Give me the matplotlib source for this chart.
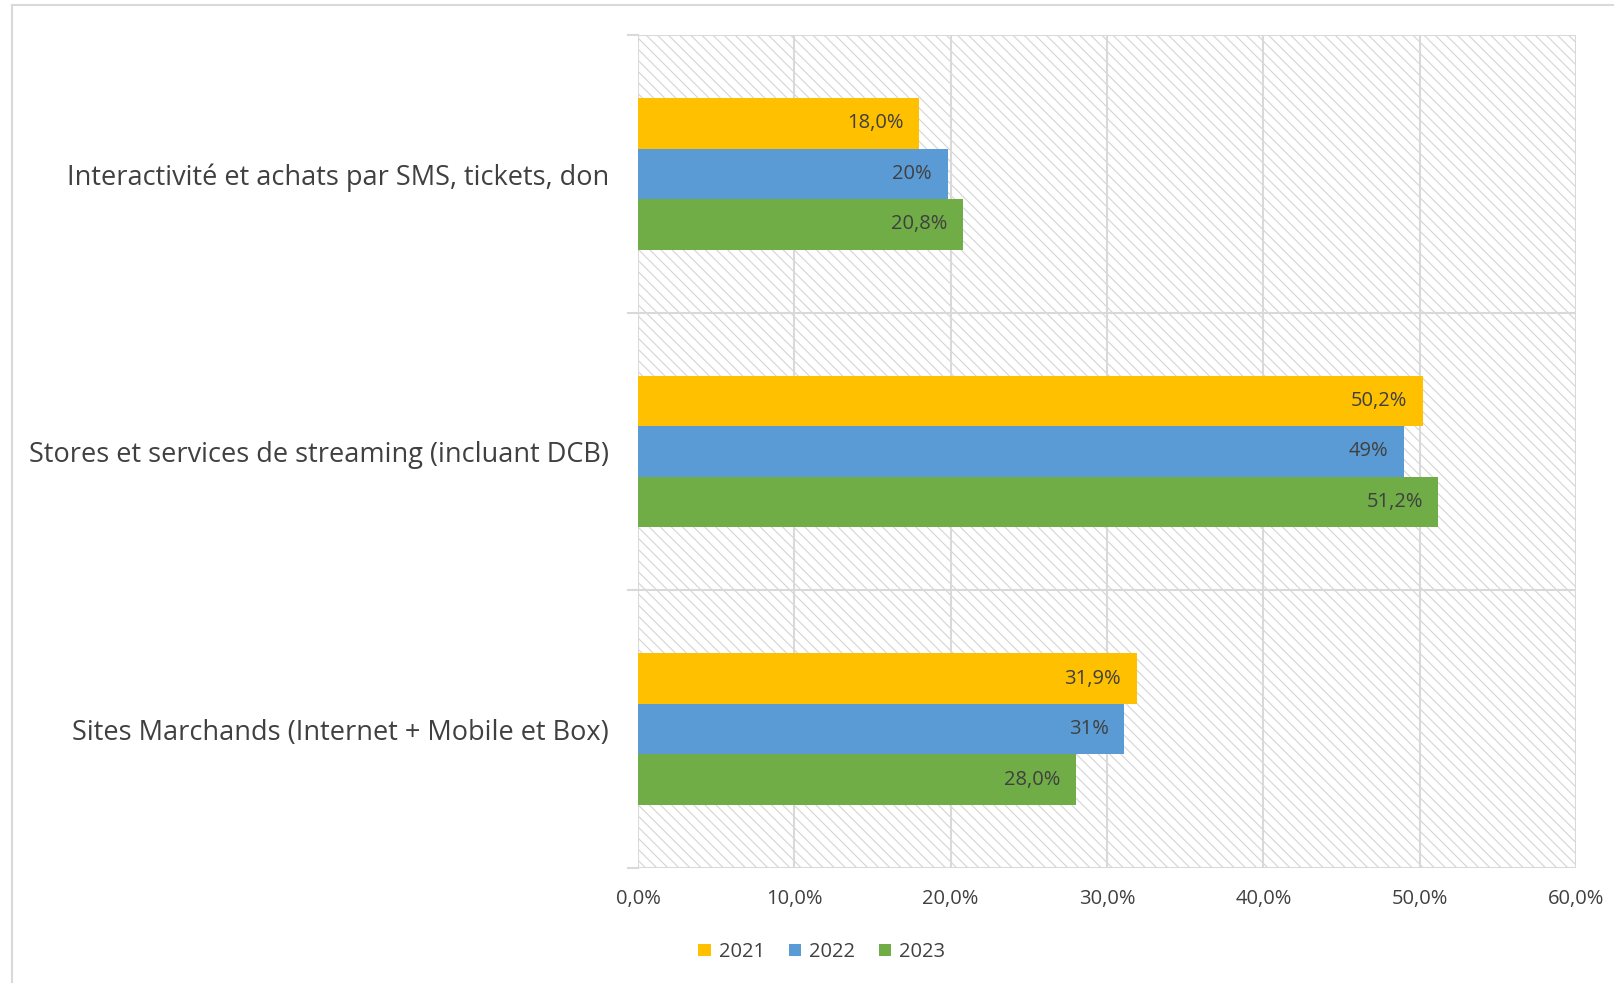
import matplotlib.pyplot as plt
from matplotlib.patches import Rectangle
import numpy as np

# Data
categories = ['Interactivité et achats par SMS, tickets, don',
              'Stores et services de streaming (incluant DCB)',
              'Sites Marchands (Internet + Mobile et Box)']
years = ['2021', '2022', '2023']
values_2021 = [18.0, 50.2, 31.9]
values_2022 = [19.8, 49.0, 31.1]
values_2023 = [20.8, 51.2, 28.0]
label_fmt = ['{:.1f}%', '{:.0f}%', '{:.1f}%']
colors = ['#ffc000', '#5b9bd5', '#70ad47']
xticks = [0, 10, 20, 30, 40, 50, 60]

plt.rcParams['font.family'] = ['Open Sans', 'DejaVu Sans']
plt.rcParams['hatch.linewidth'] = 0.8
text_col = '#404040'
grid_col = '#d9d9d9'

W, H = 1615, 983
fig = plt.figure(figsize=(W / 100, H / 100), dpi=100)
ax = fig.add_axes([638 / W, 1 - 868 / H, (1576 - 638) / W, (868 - 35) / H])

# figure border (light gray frame)
fig.add_artist(Rectangle((12 / W, -0.01), 1.1, 1 - 5 / H + 0.01,
                         transform=fig.transFigure, fill=False,
                         edgecolor=grid_col, linewidth=1.5))

ax.set_xlim(0, 60)
ax.set_ylim(3, 0)

# hatched plot area
ax.add_patch(Rectangle((0, 0), 60, 3, facecolor='white', edgecolor='#d4d4d4',
                       linewidth=0, hatch='\\\\\\', zorder=0))

n = len(categories)
bar_h = 49 / 269
series = [values_2021, values_2022, values_2023]
for i, (vals, col, fmt) in enumerate(zip(series, colors, label_fmt)):
    y = np.arange(n) + 0.5 + (i - 1) * bar_h
    ax.barh(y, vals, height=bar_h, color=col, label=years[i], zorder=3)
    for yy, v in zip(y, vals):
        ax.text(v - 1.0, yy, fmt.format(v).replace('.', ','), ha='right', va='center',
                fontsize=14.5, color=text_col, zorder=4)

# gridlines
for xv in xticks:
    ax.axvline(xv, color=grid_col, linewidth=1.5, zorder=1)
for k in range(n + 1):
    ax.axhline(k, color=grid_col, linewidth=1.5, zorder=1)
    ax.plot([-0.64, 0], [k, k], color=grid_col, linewidth=1.5, clip_on=False, zorder=1)

for s in ax.spines.values():
    s.set_visible(False)

ax.set_xticks(xticks)
ax.set_xticklabels(['{:.1f}%'.format(x).replace('.', ',') for x in xticks],
                   fontsize=14.5, color=text_col)
ax.tick_params(axis='x', length=0, pad=15)
ax.set_yticks(np.arange(n) + 0.5)
ax.set_yticklabels(categories, fontsize=19.5, color=text_col)
ax.tick_params(axis='y', length=0, pad=21)

leg = fig.legend(loc='center', bbox_to_anchor=(822 / W, 1 - 952 / H), ncol=3,
                 frameon=False, fontsize=14.5, handlelength=0.6, handleheight=0.6,
                 handletextpad=0.4, columnspacing=1.2)
for t in leg.get_texts():
    t.set_color(text_col)

plt.savefig('out.png', dpi=100)
plt.close()
